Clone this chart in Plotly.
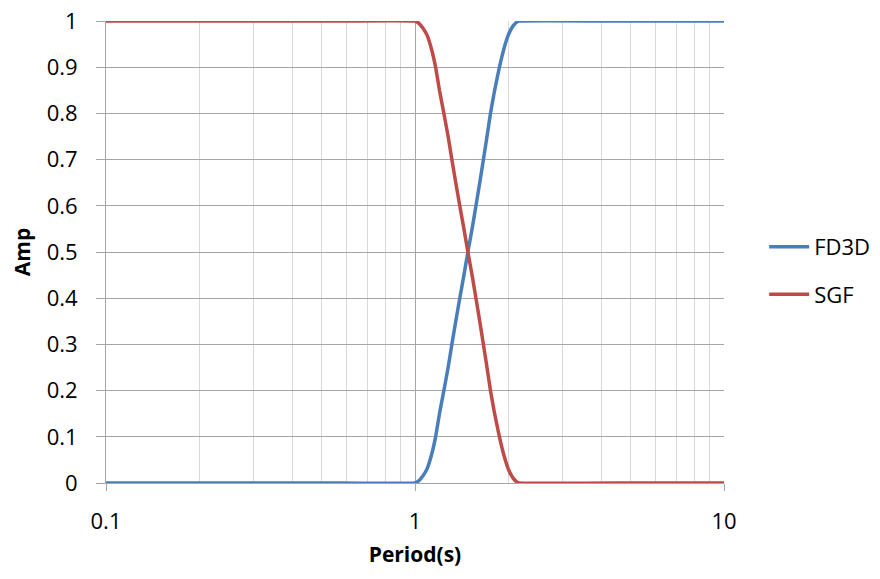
import plotly.graph_objects as go

periods = [0.1, 0.5, 1.0, 1.03, 1.06, 1.093, 1.13, 1.166, 1.2, 1.24, 1.28, 1.316, 1.355, 1.396, 1.44,
           1.483, 1.53, 1.575, 1.62, 1.665, 1.71, 1.755, 1.81, 1.876, 1.94, 2.01, 2.08, 2.13, 2.17, 5.0, 10.0]
sgf_amp = [1.0, 1.0, 1.0, 0.995, 0.985, 0.97, 0.94, 0.9, 0.85, 0.8, 0.75, 0.7, 0.65, 0.6, 0.55,
           0.5, 0.45, 0.4, 0.35, 0.3, 0.25, 0.2, 0.15, 0.1, 0.06, 0.028, 0.01, 0.003, 0.0, 0.0, 0.0]
fd3d_amp = [0.0, 0.0, 0.0, 0.005, 0.015, 0.03, 0.06, 0.1, 0.15, 0.2, 0.25, 0.3, 0.35, 0.4, 0.45,
            0.5, 0.55, 0.6, 0.65, 0.7, 0.75, 0.8, 0.85, 0.9, 0.94, 0.972, 0.99, 0.997, 1.0, 1.0, 1.0]

x_tickvals = [0.1, 1, 10]
x_ticktext = ["0.1", "1", "10"]
x_minor = [0.2, 0.3, 0.4, 0.5, 0.6, 0.7, 0.8, 0.9, 2, 3, 4, 5, 6, 7, 8, 9]
y_tickvals = [0, 0.1, 0.2, 0.3, 0.4, 0.5, 0.6, 0.7, 0.8, 0.9, 1]
y_ticktext = ["0", "0.1", "0.2", "0.3", "0.4", "0.5", "0.6", "0.7", "0.8", "0.9", "1"]

fig = go.Figure()
fig.add_trace(go.Scatter(x=periods, y=fd3d_amp, mode="lines", name="FD3D",
                         line=dict(color="#4A7EBB", width=3.5, shape="spline", smoothing=0.3),
                         legendgroup="a", cliponaxis=False))
fig.add_trace(go.Scatter(x=periods, y=sgf_amp, mode="lines", name="SGF",
                         line=dict(color="#BE4B48", width=3.5, shape="spline", smoothing=0.3),
                         legendgroup="b", cliponaxis=False))

font = "Open Sans, Liberation Sans, sans-serif"
fig.update_layout(
    width=872, height=571,
    margin=dict(l=98, r=156, t=13, b=96, autoexpand=False),
    paper_bgcolor="white", plot_bgcolor="white",
    font=dict(family=font, size=22, color="#000000"),
    showlegend=True,
    legend=dict(x=1.065, y=0.459, xanchor="left", yanchor="middle",
                font=dict(size=22), tracegroupgap=16, itemwidth=40,
                bgcolor="rgba(0,0,0,0)"),
    xaxis=dict(type="log", range=[-1, 1], tickvals=x_tickvals, ticktext=x_ticktext,
               showgrid=True, gridcolor="#A6A6A6", gridwidth=1,
               ticks="outside", ticklen=7, tickcolor="#A6A6A6", ticklabelstandoff=12,
               ticklabeloverflow="allow",
               showline=True, linecolor="#A6A6A6", linewidth=1, automargin=False,
               minor=dict(tickvals=x_minor, showgrid=True, gridcolor="#D9D9D9", gridwidth=1, ticks=""),
               zeroline=False,
               title=dict(text="<b>Period(s)</b>", font=dict(size=21), standoff=12)),
    yaxis=dict(range=[0, 1], tickvals=y_tickvals, ticktext=y_ticktext,
               showgrid=True, gridcolor="#A6A6A6", gridwidth=1,
               ticks="outside", ticklen=9, tickcolor="#A6A6A6", ticklabelstandoff=14,
               ticklabeloverflow="allow",
               showline=True, linecolor="#A6A6A6", linewidth=1, automargin=False,
               zeroline=False,
               title=dict(text="<b>Amp</b>", font=dict(size=21), standoff=22)),
)

fig.write_html("out.html")
